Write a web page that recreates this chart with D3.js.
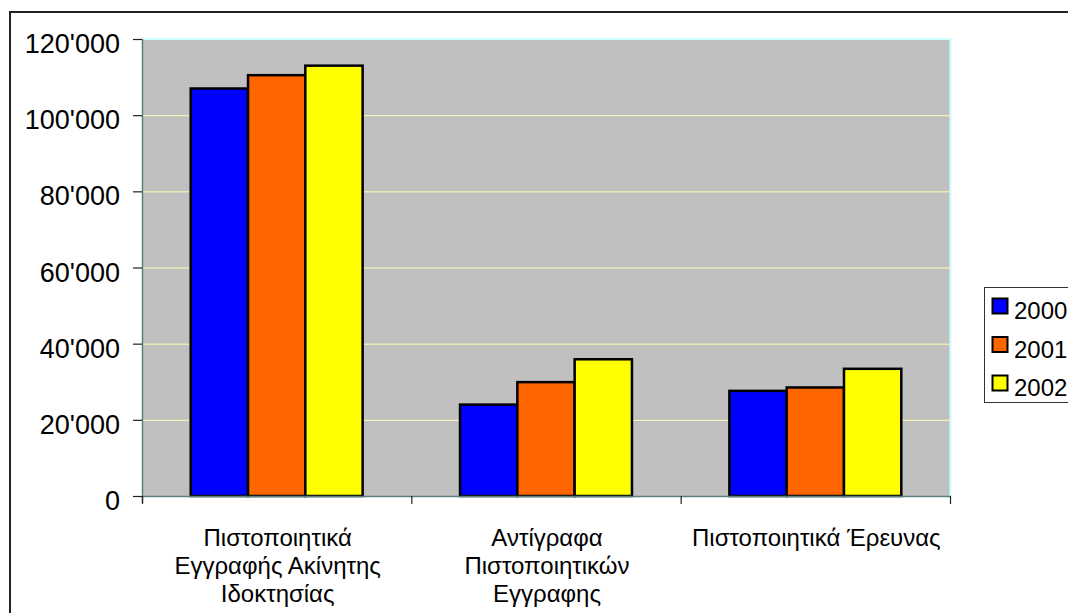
<!DOCTYPE html>
<html>
<head>
<meta charset="utf-8">
<script src="https://cdn.jsdelivr.net/npm/d3@7"></script>
<style>
html,body{margin:0;padding:0;background:#fff;}
svg{display:block;font-family:"Liberation Sans",Arial,sans-serif;}
</style>
</head>
<body>
<svg id="chart" width="1068" height="613"></svg>
<script>
const categories = [
  ["Πιστοποιητικά", "Εγγραφής Ακίνητης", "Ιδοκτησίας"],
  ["Αντίγραφα", "Πιστοποιητικών", "Εγγραφης"],
  ["Πιστοποιητικά Έρευνας"]
];
const seriesNames = ["2000", "2001", "2002"];
const values2000 = [107000, 24000, 27600];
const values2001 = [110500, 29900, 28500];
const values2002 = [113000, 35900, 33400];
const seriesColors = ["#0000ff", "#ff6600", "#ffff00"];
const yTicks = [0, 20000, 40000, 60000, 80000, 100000, 120000];

(function () {
const series = [values2000, values2001, values2002];
const svg = d3.select("#chart");

// outer chart border
svg.append("rect").attr("x", 10).attr("y", 12).attr("width", 1080).attr("height", 620)
  .attr("fill", "#fff").attr("stroke", "#222").attr("stroke-width", 2);

const pl = 142, pr = 950, pt = 39, pb = 496;
const x0 = d3.scaleBand().domain(d3.range(categories.length)).range([pl, pr]).padding(0);
const x1 = d3.scaleBand().domain(d3.range(seriesNames.length)).range([0, x0.bandwidth()]).paddingInner(0).paddingOuter(0.85);
const y = d3.scaleLinear().domain([0, 120000]).range([pb, pt]);

// plot background
svg.append("rect").attr("x", pl).attr("y", pt).attr("width", pr - pl).attr("height", pb - pt)
  .attr("fill", "#c0c0c0");
// top and right cyan borders
svg.append("line").attr("x1", pl).attr("x2", pr + 1).attr("y1", pt).attr("y2", pt)
  .attr("stroke", "#ccffff").attr("stroke-width", 2);
svg.append("line").attr("x1", pr + 0.5).attr("x2", pr + 0.5).attr("y1", pt).attr("y2", pb)
  .attr("stroke", "#ccffff").attr("stroke-width", 2);

// gridlines
svg.append("g").selectAll("line").data(yTicks.filter(d => d > 0 && d < 120000)).join("line")
  .attr("x1", pl).attr("x2", pr).attr("y1", d => y(d) + 0.5).attr("y2", d => y(d) + 0.5)
  .attr("stroke", "#ffffb0").attr("stroke-width", 1);

// bars
const groups = svg.append("g").selectAll("g").data(categories).join("g")
  .attr("transform", (d, i) => `translate(${x0(i)},0)`);
groups.selectAll("rect").data((d, i) => series.map((s, k) => ({k, v: s[i]}))).join("rect")
  .attr("x", d => x1(d.k)).attr("width", x1.bandwidth())
  .attr("y", d => y(d.v)).attr("height", d => y(0) - y(d.v))
  .attr("fill", d => seriesColors[d.k]).attr("stroke", "#000").attr("stroke-width", 2.5);

// y axis
const yAxis = d3.axisLeft(y).tickValues(yTicks).tickSize(9).tickPadding(13)
  .tickFormat(d => d3.format(",")(d).replace(/,/g, "'"));
const ya = svg.append("g").attr("transform", `translate(${pl},0)`).call(yAxis);
ya.select(".domain").attr("stroke", "#5a7f7f").attr("stroke-width", 1.5).attr("d", `M0.5,${pt}V${pb + 7}`);
ya.selectAll(".tick line").attr("stroke", "#222").attr("stroke-width", 1.2);
ya.selectAll(".tick text").attr("font-size", 27).attr("fill", "#000").attr("dy", "0.5em")
  .style("font-family", '"Liberation Sans",Arial,sans-serif');

// x axis
const xa = svg.append("g").attr("transform", `translate(0,${pb})`);
xa.append("line").attr("x1", pl).attr("x2", pr + 1).attr("y1", 0.5).attr("y2", 0.5)
  .attr("stroke", "#5a7f7f").attr("stroke-width", 1.5);
const boundaries = d3.range(categories.length + 1).map(i => i < categories.length ? x0(i) : x0(i - 1) + x0.bandwidth());
xa.selectAll("line.t").data(boundaries).join("line").attr("class", "t")
  .attr("x1", d => d + 0.5).attr("x2", d => d + 0.5).attr("y1", 0).attr("y2", 8)
  .attr("stroke", "#222").attr("stroke-width", 1.2);
const labels = xa.selectAll("text").data(categories).join("text")
  .attr("text-anchor", "middle").attr("font-size", 24).attr("fill", "#000")
  .attr("transform", (d, i) => `translate(${x0(i) + x0.bandwidth() / 2 + 1},50)`);
labels.selectAll("tspan").data(d => d).join("tspan")
  .attr("x", 0).attr("y", (d, j) => j * 28).text(d => d);

// legend
const lg = svg.append("g").attr("transform", "translate(984,287)");
lg.append("rect").attr("x", 0.5).attr("y", 0.5).attr("width", 120).attr("height", 115)
  .attr("fill", "#fff").attr("stroke", "#333").attr("stroke-width", 1);
const items = lg.selectAll("g").data(seriesNames).join("g")
  .attr("transform", (d, i) => `translate(0,${i * 38.5})`);
items.append("rect").attr("x", 8.5).attr("y", 11.5).attr("width", 15).attr("height", 15)
  .attr("fill", (d, i) => seriesColors[i]).attr("stroke", "#000").attr("stroke-width", 2);
items.append("text").attr("x", 30).attr("y", 32).attr("font-size", 24).attr("fill", "#000").text(d => d);
})();
</script>
</body>
</html>
